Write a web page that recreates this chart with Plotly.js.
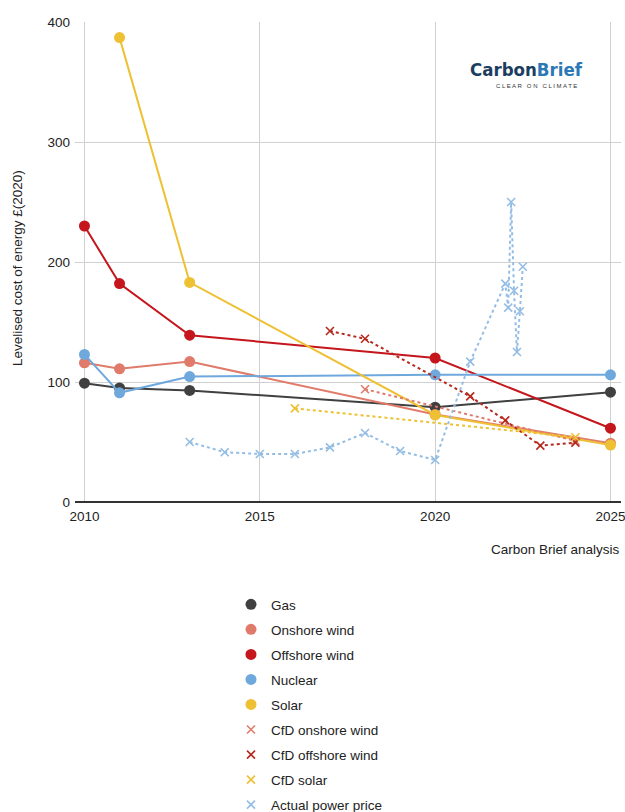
<!DOCTYPE html>
<html>
<head>
<meta charset="utf-8">
<script src="https://cdn.plot.ly/plotly-3.0.1.min.js"></script>
<style>html,body{margin:0;padding:0;background:#fff;}#chart{width:625px;height:812px;}</style>
</head>
<body>
<div id="chart"></div>
<script>
// LCOE series (years, values in £ 2020)
const lcoeYears = [2010, 2011, 2013, 2020, 2025];
const gas = [99, 95, 93, 79, 91.5];
const onshoreWind = [116, 111, 117, 73, 49];
const offshoreWind = [230, 182, 139, 120, 61.5];
const nuclear = [123, 91, 104.5, 106, 106];
const solarYears = [2011, 2013, 2020, 2025];
const solar = [387, 183, 72.5, 47.5];

// CfD strike prices
const cfdOnshoreYears = [2018, 2024];
const cfdOnshore = [94, 51];
const cfdOffshoreYears = [2017, 2018, 2021, 2022, 2023, 2024];
const cfdOffshore = [142.5, 136, 88, 68, 47, 49.5];
const cfdSolarYears = [2016, 2024];
const cfdSolar = [78, 54];

// Actual power price (annual, then monthly 2022)
const priceYears = [2013, 2014, 2015, 2016, 2017, 2018, 2019, 2020, 2021,
  2022.0, 2022.083, 2022.167, 2022.25, 2022.333, 2022.417, 2022.5];
const powerPrice = [50, 41.5, 40, 40, 45.5, 57.5, 42.5, 35, 117,
  182, 162, 250, 176, 125, 159, 196];

const xTicks = [2010, 2015, 2020, 2025];
const yTicks = [0, 100, 200, 300, 400];

const FONT = 'Liberation Sans, Arial, sans-serif';

function solid(name, x, y, color) {
  return [
    {x: x, y: y, type: 'scatter', mode: 'lines', line: {color: color, width: 2},
     showlegend: false, hoverinfo: 'skip', legendgroup: name},
    {x: x, y: y, type: 'scatter', mode: 'markers', name: name, legendgroup: name,
     marker: {color: color, size: 11, symbol: 'circle'}}
  ];
}
function dotted(name, x, y, color) {
  return [
    {x: x, y: y, type: 'scatter', mode: 'lines', line: {color: color, width: 2, dash: 'dot'},
     showlegend: false, hoverinfo: 'skip', legendgroup: name},
    {x: x, y: y, type: 'scatter', mode: 'markers', name: name, legendgroup: name,
     marker: {color: color, size: 8, symbol: 'x-thin', line: {color: color, width: 1.6}}}
  ];
}

const data = [].concat(
  solid('Gas', lcoeYears, gas, '#404040'),
  solid('Onshore wind', lcoeYears, onshoreWind, '#e07b6b'),
  solid('Offshore wind', lcoeYears, offshoreWind, '#c4161c'),
  solid('Nuclear', lcoeYears, nuclear, '#6fa8dc'),
  solid('Solar', solarYears, solar, '#eec033'),
  dotted('CfD onshore wind', cfdOnshoreYears, cfdOnshore, '#e07b6b'),
  dotted('CfD offshore wind', cfdOffshoreYears, cfdOffshore, '#b5291e'),
  dotted('CfD solar', cfdSolarYears, cfdSolar, '#eec033'),
  dotted('Actual power price', priceYears, powerPrice, '#94bde4')
);

const layout = {
  width: 625, height: 812,
  margin: {l: 75, r: 4, t: 22, b: 310, autoexpand: false},
  paper_bgcolor: '#fff', plot_bgcolor: '#fff',
  font: {family: FONT, size: 13.5, color: '#222'},
  showlegend: true,
  xaxis: {
    range: [2009.73, 2025.3], tickvals: xTicks, ticktext: xTicks.map(String),
    showgrid: true, gridcolor: '#d0d0d0', gridwidth: 1,
    zeroline: false, showline: false, ticks: '',
    ticklabelstandoff: 4, ticklabeloverflow: 'allow',
    tickfont: {size: 13.5, color: '#222'}
  },
  yaxis: {
    range: [0, 400], tickvals: yTicks, ticktext: yTicks.map(String),
    showgrid: true, gridcolor: '#d0d0d0', gridwidth: 1,
    zeroline: true, zerolinecolor: '#333', zerolinewidth: 1.5,
    showline: false, ticks: '', ticklabelstandoff: 4,
    tickfont: {size: 13.5, color: '#222'}
  },
  legend: {
    xref: 'container', yref: 'container',
    x: 231 / 625, xanchor: 'left',
    y: 1 - 589 / 812, yanchor: 'top',
    font: {size: 13.5, color: '#222'},
    tracegroupgap: 4.5, traceorder: 'grouped',
    bgcolor: 'rgba(0,0,0,0)'
  },
  annotations: [
    {xref: 'paper', yref: 'paper', x: (17 - 75) / 546, y: (502 - 268) / 480,
     xanchor: 'center', yanchor: 'middle', showarrow: false, textangle: -90,
     text: 'Levelised cost of energy £(2020)', font: {size: 13.5, color: '#222'}},
    {xref: 'paper', yref: 'paper', x: (622 - 75) / 546, y: (502 - 549) / 480,
     xanchor: 'right', yanchor: 'middle', showarrow: false,
     text: 'Carbon Brief analysis', font: {size: 13.5, color: '#222'}},
    {xref: 'paper', yref: 'paper', x: (526 - 75) / 546, y: (502 - 70) / 480,
     xanchor: 'center', yanchor: 'middle', showarrow: false,
     text: '<b>Carbon<span style="color:#2b78b5">Brief</span></b>',
     font: {family: 'DejaVu Sans Condensed, sans-serif', size: 18.5, color: '#1b3d5f'}},
    {xref: 'paper', yref: 'paper', x: (536 - 75) / 546, y: (502 - 86) / 480,
     xanchor: 'center', yanchor: 'middle', showarrow: false,
     text: 'C L E A R   O N   C L I M A T E',
     font: {family: FONT, size: 6, color: '#333'}}
  ]
};

Plotly.newPlot('chart', data, layout, {displayModeBar: false, staticPlot: true});
</script>
</body>
</html>
